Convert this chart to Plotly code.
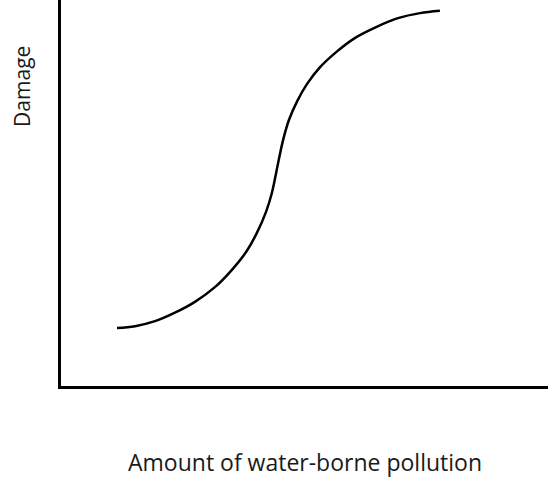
import plotly.graph_objects as go

# Curve (arbitrary units 0-100 on both axes)
pollution = [11.5, 15.2, 19.3, 23.4, 27.5, 31.6, 35.1, 38.0, 40.2, 42.1, 43.3, 44.1,
             44.8, 45.6, 46.8, 48.5, 50.5, 53.2, 56.5, 60.4, 64.7, 69.2, 73.7, 77.8]
damage = [15.0, 15.5, 16.8, 19.0, 21.8, 25.6, 30.1, 34.7, 39.6, 45.1, 50.0, 54.7,
          59.1, 63.7, 68.9, 73.8, 78.2, 82.6, 86.5, 90.2, 93.0, 95.3, 96.6, 97.2]

x_title = "Amount of water-borne pollution"
y_title = "Damage"

FONT = "Open Sans, sans-serif"

fig = go.Figure()
fig.add_trace(go.Scatter(x=pollution, y=damage, mode="lines",
                         line=dict(color="black", width=2.5, shape="spline", smoothing=1.0),
                         hoverinfo="skip", showlegend=False))

fig.update_layout(
    width=548, height=478,
    margin=dict(l=61, r=0, t=0, b=92),
    paper_bgcolor="white", plot_bgcolor="white",
    font=dict(family=FONT, color="#1a1a1a"),
    xaxis=dict(range=[0, 100], showline=True, linecolor="black", linewidth=3,
               showgrid=False, zeroline=False, showticklabels=False, ticks=""),
    yaxis=dict(range=[0, 100], showline=True, linecolor="black", linewidth=3,
               showgrid=False, zeroline=False, showticklabels=False, ticks=""),
    annotations=[
        dict(text=x_title, xref="paper", yref="paper", x=0.501, y=-0.197,
             xanchor="center", yanchor="middle", showarrow=False,
             font=dict(size=23, family=FONT, color="#1a1a1a")),
        dict(text=y_title, xref="paper", yref="paper", x=-0.080, y=0.775,
             xanchor="center", yanchor="middle", showarrow=False, textangle=-90,
             font=dict(size=21, family=FONT, color="#1a1a1a")),
    ],
)

fig.write_html("out.html", config={"displayModeBar": False},
               post_script="document.body.style.margin='0';")
